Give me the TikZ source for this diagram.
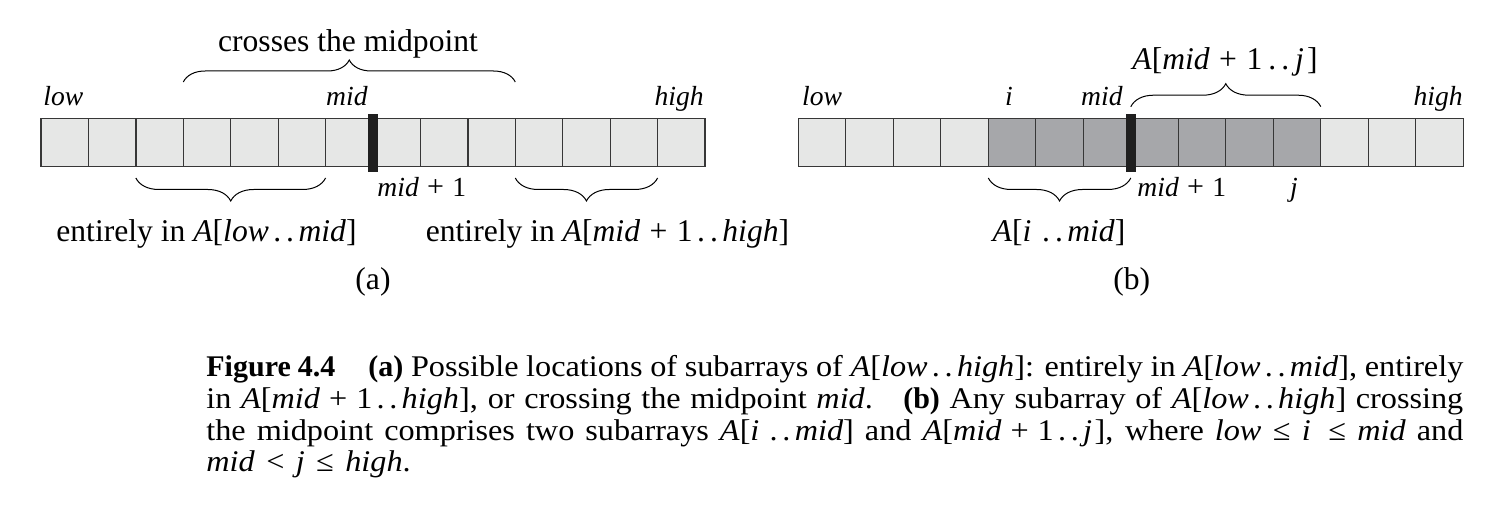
\documentclass[tikz,border=0pt]{standalone}
\usepackage{fontspec}
\setmainfont{Liberation Serif}
\newfontfamily\capfont[FakeStretch=1.075]{Liberation Serif}
\usetikzlibrary{decorations.pathreplacing}
\definecolor{lightcell}{RGB}{230,231,230}
\definecolor{darkcell}{RGB}{166,167,170}
\definecolor{gridc}{RGB}{55,55,55}
\newcommand\va[1]{\textit{#1}}
\newcommand\twodots{\kern0.14em.\kern0.16em.\kern0.14em}
\newcommand\pluss{\kern0.3em+\kern0.3em}
\newcommand\idxplus{\kern0.3em{\upshape\fontsize{15}{16}\selectfont+}\kern0.3em}
\newcommand\lesq{\kern0.38em{\upshape ≤}\kern0.38em}
\newcommand\lessr{\kern0.38em{\upshape <}\kern0.38em}
\newcommand\capbf[1]{{\rmfamily\bfseries #1}}
\begin{document}
\begin{tikzpicture}[x=0.5pt,y=-0.5pt,
  cellL/.style={fill=lightcell,draw=gridc,line width=0.65pt},
  cellD/.style={fill=darkcell,draw=gridc,line width=0.65pt},
  midbar/.style={fill=black!88,draw=none},
  brc/.style={decorate,decoration={brace,amplitude=#1},line width=0.5pt},
  brc/.default=11.5pt,
  idx/.style={font=\fontsize{13.8}{16}\selectfont\itshape,inner sep=0},
  lbl/.style={font=\fontsize{15.8}{18}\selectfont,inner sep=0}]
\fill[white] (0,0) rectangle (1512,522);
\path[use as bounding box] (0,0) rectangle (1512,522);
% ---------- (a) ----------
\def\wa{47.43}
\foreach \k in {0,...,13} \draw[cellL] ({41+\k*\wa},118.7) rectangle ++(\wa,47.6);
\fill[midbar] ({41+7*\wa-5},114) rectangle ++(10,58);
\coordinate (aT1) at ({41+3*\wa},82);
\coordinate (aT2) at ({41+10*\wa},82);
\coordinate (aL1) at ({41+2*\wa},178);
\coordinate (aL2) at ({41+6*\wa},178);
\coordinate (aR1) at ({41+10*\wa},178);
\coordinate (aR2) at ({41+13*\wa},178);
\draw[brc=11pt] (aT1) -- (aT2);
\draw[brc] (aL2) -- (aL1);
\draw[brc] (aR2) -- (aR1);
\node[idx,anchor=base west] (alow) at (43,106) {low};
\node[idx,anchor=base east] (amid) at (368,106) {mid};
\node[idx,anchor=base east] (ahigh) at (704,106) {high};
\node[idx,anchor=base west] (amidp) at (377,197) {mid\idxplus\upshape1};
\node[lbl,anchor=base] (across) at (348,51.5) {crosses the midpoint};
\node[lbl,anchor=base] (aleft) at (206.5,241.5) {entirely in \va{A}[\va{low}\twodots\va{mid}]};
\node[lbl,anchor=base] (aright) at (607.5,241.5) {entirely in \va{A}[\va{mid}\pluss1\twodots\va{high}]};
\node[lbl,anchor=base] (alab) at (373,290) {(a)};
% ---------- (b) ----------
\def\wb{47.5}
\foreach \k in {0,...,3,11,12,13} \draw[cellL] ({798.3+\k*\wb},118.7) rectangle ++(\wb,47.6);
\foreach \k in {4,...,10} \draw[cellD] ({798.3+\k*\wb},118.7) rectangle ++(\wb,47.6);
\fill[midbar] ({798.3+7*\wb-5},114) rectangle ++(10,58);
\coordinate (bT1) at ({798.3+7*\wb},106.7);
\coordinate (bT2) at ({798.3+11*\wb},106.7);
\coordinate (bB1) at ({798.3+4*\wb},178);
\coordinate (bB2) at ({798.3+7*\wb},178);
\draw[brc] (bT1) -- (bT2);
\draw[brc] (bB2) -- (bB1);
\node[idx,anchor=base west] (blow) at (801.7,106) {low};
\node[idx,anchor=base] (bi) at (1009,106) {i};
\node[idx,anchor=base east] (bmid) at (1123,106) {mid};
\node[idx,anchor=base east] (bhigh) at (1463,106) {high};
\node[idx,anchor=base west] (bmidp) at (1137,197) {mid\idxplus\upshape1};
\node[idx,anchor=base] (bj) at (1294,197) {j};
\node[lbl,anchor=base] (btop) at (1225,70) {\va{A}[\va{mid}\pluss1\kern0.05em\twodots\kern0.05em\va{j}\kern0.1em]};
\node[lbl,anchor=base] (bbot) at (1059,241.5) {\va{A}[\va{i}\kern0.2em\twodots\va{mid}]};
\node[lbl,anchor=base] (blab) at (1131.7,290) {(b)};
% ---------- caption ----------
\node[anchor=base west,inner sep=0] (cap) at (206,377) {\parbox[t]{628.5pt}{\capfont\fontsize{15}{15.8}\selectfont
\makebox[\linewidth][s]{\capbf{Figure 4.4}\hspace{1.1em}\capbf{(a)} Possible locations of subarrays of \va{A}[\va{low}\twodots\va{high}]: entirely in \va{A}[\va{low}\twodots\va{mid}], entirely}\\
\makebox[\linewidth][s]{in \va{A}[\va{mid}\pluss1\twodots\va{high}], or crossing the midpoint \va{mid}.\hspace{0.5em} \capbf{(b)} Any subarray of \va{A}[\va{low}\twodots\va{high}] crossing}\\
\makebox[\linewidth][s]{the midpoint comprises two subarrays \va{A}[\va{i}\kern0.2em\twodots\va{mid}] and \va{A}[\va{mid}\pluss1\twodots\va{j}\kern0.08em], where \va{low}\lesq\va{i}\kern0.2em\lesq\va{mid} and}\\
\va{mid}\lessr\va{j}\lesq\va{high}.}};
\end{tikzpicture}
\end{document}
